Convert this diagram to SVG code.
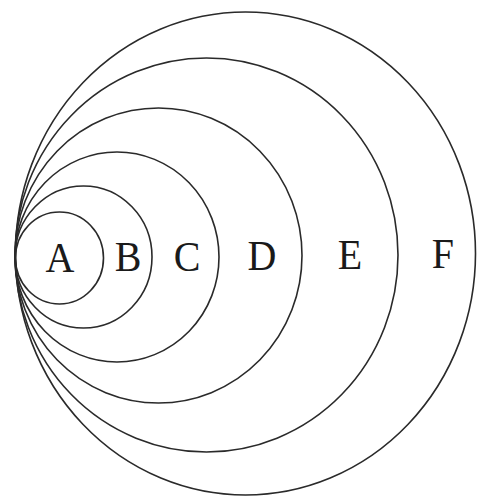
<svg xmlns="http://www.w3.org/2000/svg" width="477" height="497" viewBox="0 0 477 497">
<style>
.c{fill:none;stroke:#2a2a2a;stroke-width:1.6}
.t{font-family:"Liberation Serif","Times New Roman",serif;font-size:40px;fill:#1a1a1a;text-anchor:middle}
</style>
<rect width="477" height="497" fill="#fff"/>
<g id="F"><ellipse class="c" cx="245.5" cy="253.5" rx="230" ry="241.5"/><text class="t" x="443" y="268" transform="translate(443 268) scale(1 1.08) translate(-443 -268)">F</text></g>
<g id="E"><ellipse class="c" cx="206.5" cy="255" rx="191.5" ry="197"/><text class="t" x="350" y="269" transform="translate(350 269) scale(1 1.08) translate(-350 -269)">E</text></g>
<g id="D"><ellipse class="c" cx="158.5" cy="255.5" rx="143.5" ry="147.5"/><text class="t" x="262" y="270" transform="translate(262 270) scale(1 1.08) translate(-262 -270)">D</text></g>
<g id="C"><ellipse class="c" cx="117" cy="257" rx="102" ry="105"/><text class="t" x="187" y="271" transform="translate(187 271) scale(1 1.08) translate(-187 -271)">C</text></g>
<g id="B"><ellipse class="c" cx="83.5" cy="257" rx="68.5" ry="71"/><text class="t" x="128" y="271" transform="translate(128 271) scale(1 1.08) translate(-128 -271)">B</text></g>
<g id="A"><ellipse class="c" cx="59.5" cy="258" rx="44" ry="46"/><text class="t" x="60" y="272" transform="translate(60 272) scale(1 1.08) translate(-60 -272)">A</text></g>
</svg>
